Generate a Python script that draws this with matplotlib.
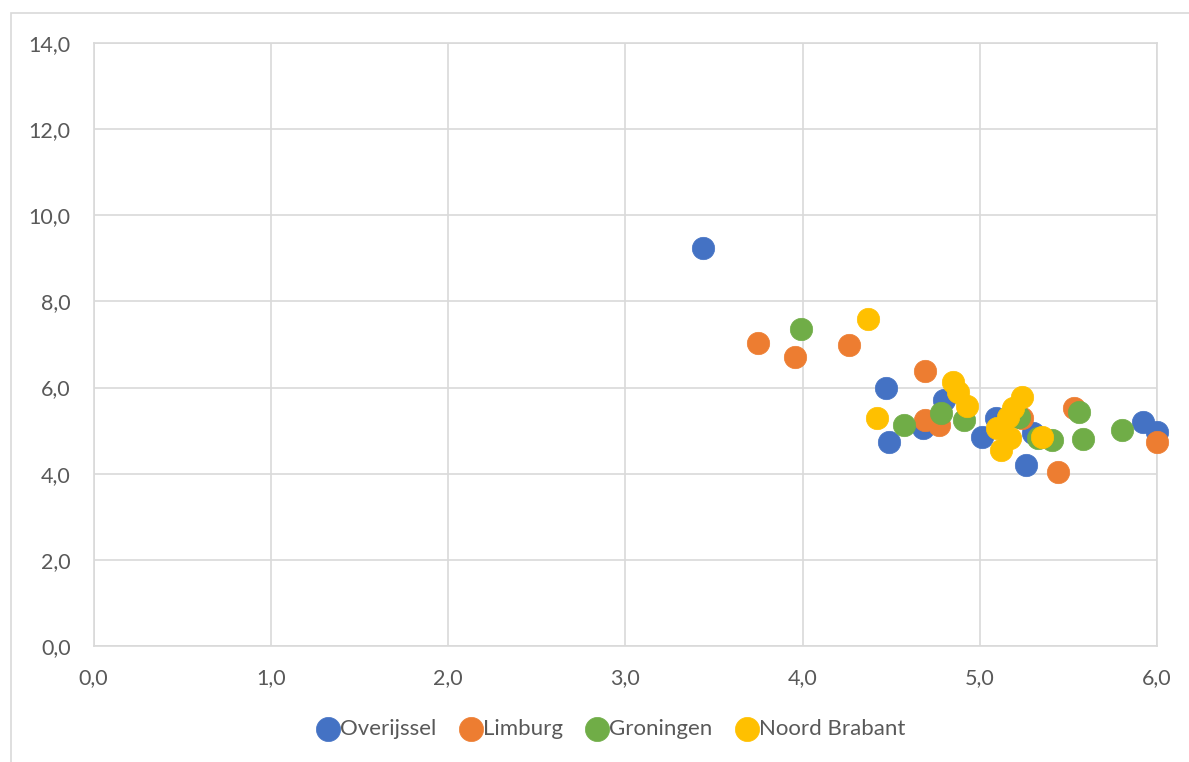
import matplotlib
matplotlib.use("Agg")
import matplotlib.pyplot as plt
from matplotlib.patches import Rectangle
from matplotlib.ticker import FuncFormatter, MultipleLocator

plt.rcParams['font.family'] = ['Lato', 'DejaVu Sans']

# Scatter data per province
overijssel_x = [3.44, 4.47, 4.49, 4.68, 4.80, 5.09, 5.01, 5.30, 5.26, 5.92, 6.00]
overijssel_y = [9.24, 5.99, 4.74, 5.06, 5.71, 5.29, 4.85, 4.95, 4.20, 5.20, 4.97]

limburg_x = [3.75, 3.96, 4.26, 4.69, 4.69, 4.77, 5.24, 5.53, 5.44, 6.00]
limburg_y = [7.03, 6.71, 6.99, 6.39, 5.25, 5.13, 5.29, 5.52, 4.04, 4.74]

groningen_x = [3.99, 4.57, 4.78, 4.91, 5.22, 5.33, 5.41, 5.56, 5.58, 5.80]
groningen_y = [7.36, 5.13, 5.41, 5.25, 5.32, 4.83, 4.78, 5.43, 4.81, 5.01]

brabant_x = [4.37, 4.42, 4.85, 4.88, 4.93, 5.24, 5.19, 5.16, 5.10, 5.17, 5.12, 5.35]
brabant_y = [7.59, 5.29, 6.13, 5.90, 5.57, 5.78, 5.53, 5.32, 5.06, 4.83, 4.55, 4.85]

series = [
    ("Overijssel", overijssel_x, overijssel_y, "#4472C4"),
    ("Limburg", limburg_x, limburg_y, "#ED7D31"),
    ("Groningen", groningen_x, groningen_y, "#70AD47"),
    ("Noord Brabant", brabant_x, brabant_y, "#FFC000"),
]

W, H = 1189, 762
fig = plt.figure(figsize=(W / 100, H / 100), dpi=100)
fig.patch.set_facecolor("white")

# Chart-area border
fig.patches.append(Rectangle((11 / W, -0.1), 2.0, (H - 13) / H + 0.1,
                             transform=fig.transFigure, fill=False,
                             edgecolor="#D9D9D9", linewidth=1.2))

left, right, top, bottom = 93.5, 1157, 43, 646
ax = fig.add_axes([left / W, (H - bottom) / H, (right - left) / W, (bottom - top) / H])

for name, xs, ys, col in series:
    ax.scatter(xs, ys, s=260, color=col, edgecolors=col, linewidths=0.5,
               label=name, zorder=3, clip_on=False)

ax.set_xlim(0, 6)
ax.set_ylim(0, 14)
ax.xaxis.set_major_locator(MultipleLocator(1))
ax.yaxis.set_major_locator(MultipleLocator(2))
fmt = FuncFormatter(lambda v, p: f"{v:.1f}".replace(".", ","))
ax.xaxis.set_major_formatter(fmt)
ax.yaxis.set_major_formatter(fmt)

ax.grid(True, color="#D9D9D9", linewidth=1.2, zorder=0)
ax.set_axisbelow(True)
for sp in ax.spines.values():
    sp.set_color("#D9D9D9")
    sp.set_linewidth(1.2)

ax.tick_params(axis="both", length=0, labelsize=15.5, colors="#595959")
ax.tick_params(axis="x", pad=16)
ax.tick_params(axis="y", pad=16.5)

leg = fig.legend(loc="center", bbox_to_anchor=(0.5135, (H - 729) / H), ncol=4,
                 frameon=False, fontsize=16, handlelength=1.1,
                 handletextpad=0.0, columnspacing=1.0, markerscale=1.08,
                 borderaxespad=0)
for t in leg.get_texts():
    t.set_color("#595959")

fig.savefig("out.png", dpi=100, facecolor="white")
